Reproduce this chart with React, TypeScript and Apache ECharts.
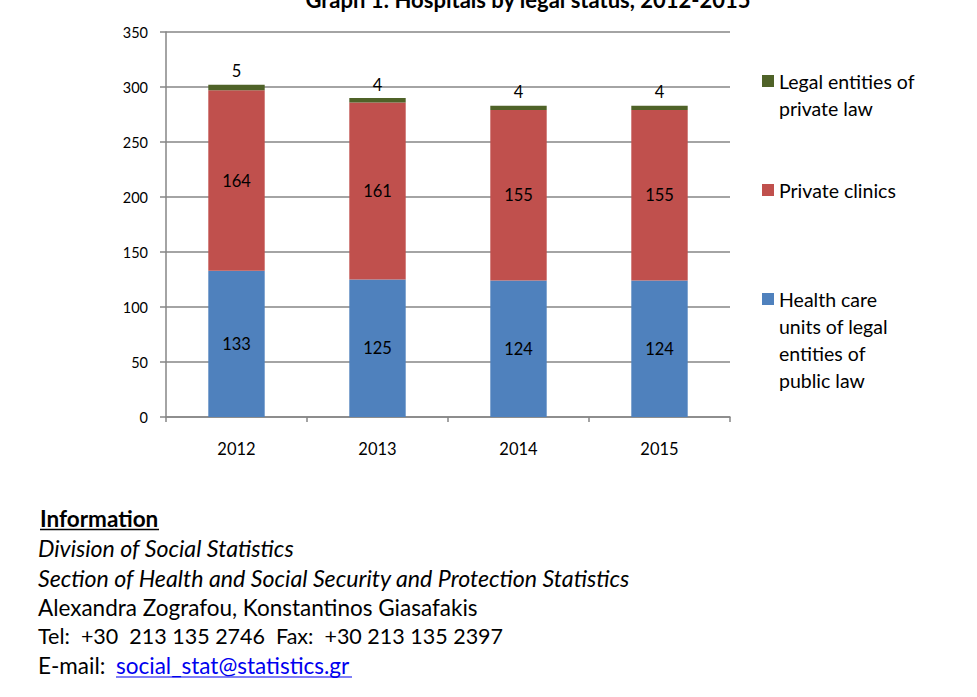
import React, { useEffect, useRef } from "react";
import * as echarts from "echarts";

const years = ["2012", "2013", "2014", "2015"];
const publicLaw = [133, 125, 124, 124];
const privateClinics = [164, 161, 155, 155];
const privateLaw = [5, 4, 4, 4];
const seriesNames = [
  "Legal entities of private law",
  "Private clinics",
  "Health care units of legal entities of public law",
];
const legendLabels = [
  ["Legal entities of", "private law"],
  ["Private clinics"],
  ["Health care", "units of legal", "entities of", "public law"],
];
const titleText = "Graph 1: Hospitals by legal status, 2012-2015";
const infoLines = [
  "Division of Social Statistics",
  "Section of Health and Social Security and Protection Statistics",
  "Alexandra Zografou, Konstantinos Giasafakis",
  "Tel:  +30  213 135 2746  Fax:  +30 213 135 2397",
];
const emailLabel = "E-mail:";
const emailAddress = "social_stat@statistics.gr";

const FONT = "Lato, 'Open Sans', sans-serif";
const GRAY = "#868686";
const BLUE = "#4F81BD";
const RED = "#C0504D";
const GREEN = "#4F6228";

export default function App() {
  const ref = useRef<HTMLDivElement>(null);
  useEffect(() => {
    if (!ref.current) return;
    const chart = echarts.init(ref.current, undefined, { renderer: "svg" });
    const lh = 27;
    const iconCenters = [81, 190, 299];
    const mkLegend = (idx: number) => {
      const lines = legendLabels[idx];
      const n = lines.length;
      const m = 2 * n - 1;
      const text = new Array(n - 1).fill("").concat(lines).join("\n");
      return {
        data: [seriesNames[idx]],
        orient: "vertical",
        left: 762,
        top: iconCenters[idx] - (m * lh) / 2,
        padding: 0,
        itemWidth: 12,
        itemHeight: 12,
        itemGap: 0,
        icon: "rect",
        formatter: () => text,
        textStyle: {
          fontFamily: FONT,
          fontSize: 19.5,
          color: "#000",
          lineHeight: lh,
        },
        selectedMode: false,
      };
    };
    const labelCommon = {
      show: true,
      fontFamily: FONT,
      fontSize: 16.5,
      color: "#000",
    };
    const infoSizes = [23.2, 23.2, 22.5, 21.5];
    const g: any[] = [];
    g.push({
      type: "text",
      style: {
        text: titleText,
        x: 528,
        y: 10,
        align: "center",
        verticalAlign: "bottom",
        fontFamily: FONT,
        fontSize: 22,
        fontWeight: "bold",
        fill: "#000",
      },
    });
    g.push({
      type: "text",
      style: {
        text: "Information",
        x: 40,
        y: 518,
        verticalAlign: "middle",
        fontFamily: FONT,
        fontSize: 22.5,
        fontWeight: "bold",
        fill: "#000",
      },
    });
    g.push({
      type: "line",
      shape: { x1: 40, y1: 529.5, x2: 159, y2: 529.5 },
      style: { stroke: "#000", lineWidth: 1.5 },
    });
    const ys = [548, 578, 607, 636];
    infoLines.forEach((t, i) => {
      g.push({
        type: "text",
        style: {
          text: t,
          x: 38,
          y: ys[i],
          verticalAlign: "middle",
          fontFamily: FONT,
          fontSize: infoSizes[i],
          fontStyle: i < 2 ? "italic" : "normal",
          fill: "#000",
        },
      });
    });
    g.push({
      type: "text",
      style: {
        text: emailLabel,
        x: 38,
        y: 665,
        verticalAlign: "middle",
        fontFamily: FONT,
        fontSize: 22.5,
        fill: "#000",
      },
    });
    g.push({
      type: "text",
      style: {
        text: emailAddress,
        x: 116,
        y: 665,
        verticalAlign: "middle",
        fontFamily: FONT,
        fontSize: 22.5,
        fill: "#0000EE",
      },
    });
    g.push({
      type: "line",
      shape: { x1: 116, y1: 677, x2: 352, y2: 677 },
      style: { stroke: "#0000EE", lineWidth: 1.2 },
    });

    chart.setOption({
      animation: false,
      backgroundColor: "#fff",
      grid: { left: 166, right: 247, top: 32, bottom: 280 },
      legend: [mkLegend(0), mkLegend(1), mkLegend(2)],
      xAxis: {
        type: "category",
        data: years,
        axisLine: { lineStyle: { color: GRAY, width: 1.5 } },
        axisTick: { show: true, length: 5, lineStyle: { color: GRAY, width: 1.5 } },
        axisLabel: { fontFamily: FONT, fontSize: 16.5, color: "#000", margin: 23 },
      },
      yAxis: {
        type: "value",
        min: 0,
        max: 350,
        interval: 50,
        axisLine: { show: true, lineStyle: { color: GRAY, width: 1.5 } },
        axisTick: { show: true, length: 6, lineStyle: { color: GRAY, width: 1.5 } },
        splitLine: { lineStyle: { color: GRAY, width: 1.5 } },
        axisLabel: { fontFamily: FONT, fontSize: 14.5, color: "#000", margin: 18 },
      },
      series: [
        {
          name: seriesNames[2],
          type: "bar",
          stack: "total",
          data: publicLaw,
          barWidth: "40%",
          itemStyle: { color: BLUE },
          label: { ...labelCommon, position: "inside" },
        },
        {
          name: seriesNames[1],
          type: "bar",
          stack: "total",
          data: privateClinics,
          itemStyle: { color: RED },
          label: { ...labelCommon, position: "inside" },
        },
        {
          name: seriesNames[0],
          type: "bar",
          stack: "total",
          data: privateLaw,
          itemStyle: { color: GREEN },
          label: { ...labelCommon, position: "top", distance: 5 },
        },
      ],
      graphic: g,
    });
    return () => chart.dispose();
  }, []);
  return (
    <div
      ref={ref}
      style={{ position: "fixed", left: 0, top: 0, width: 977, height: 697 }}
    />
  );
}
